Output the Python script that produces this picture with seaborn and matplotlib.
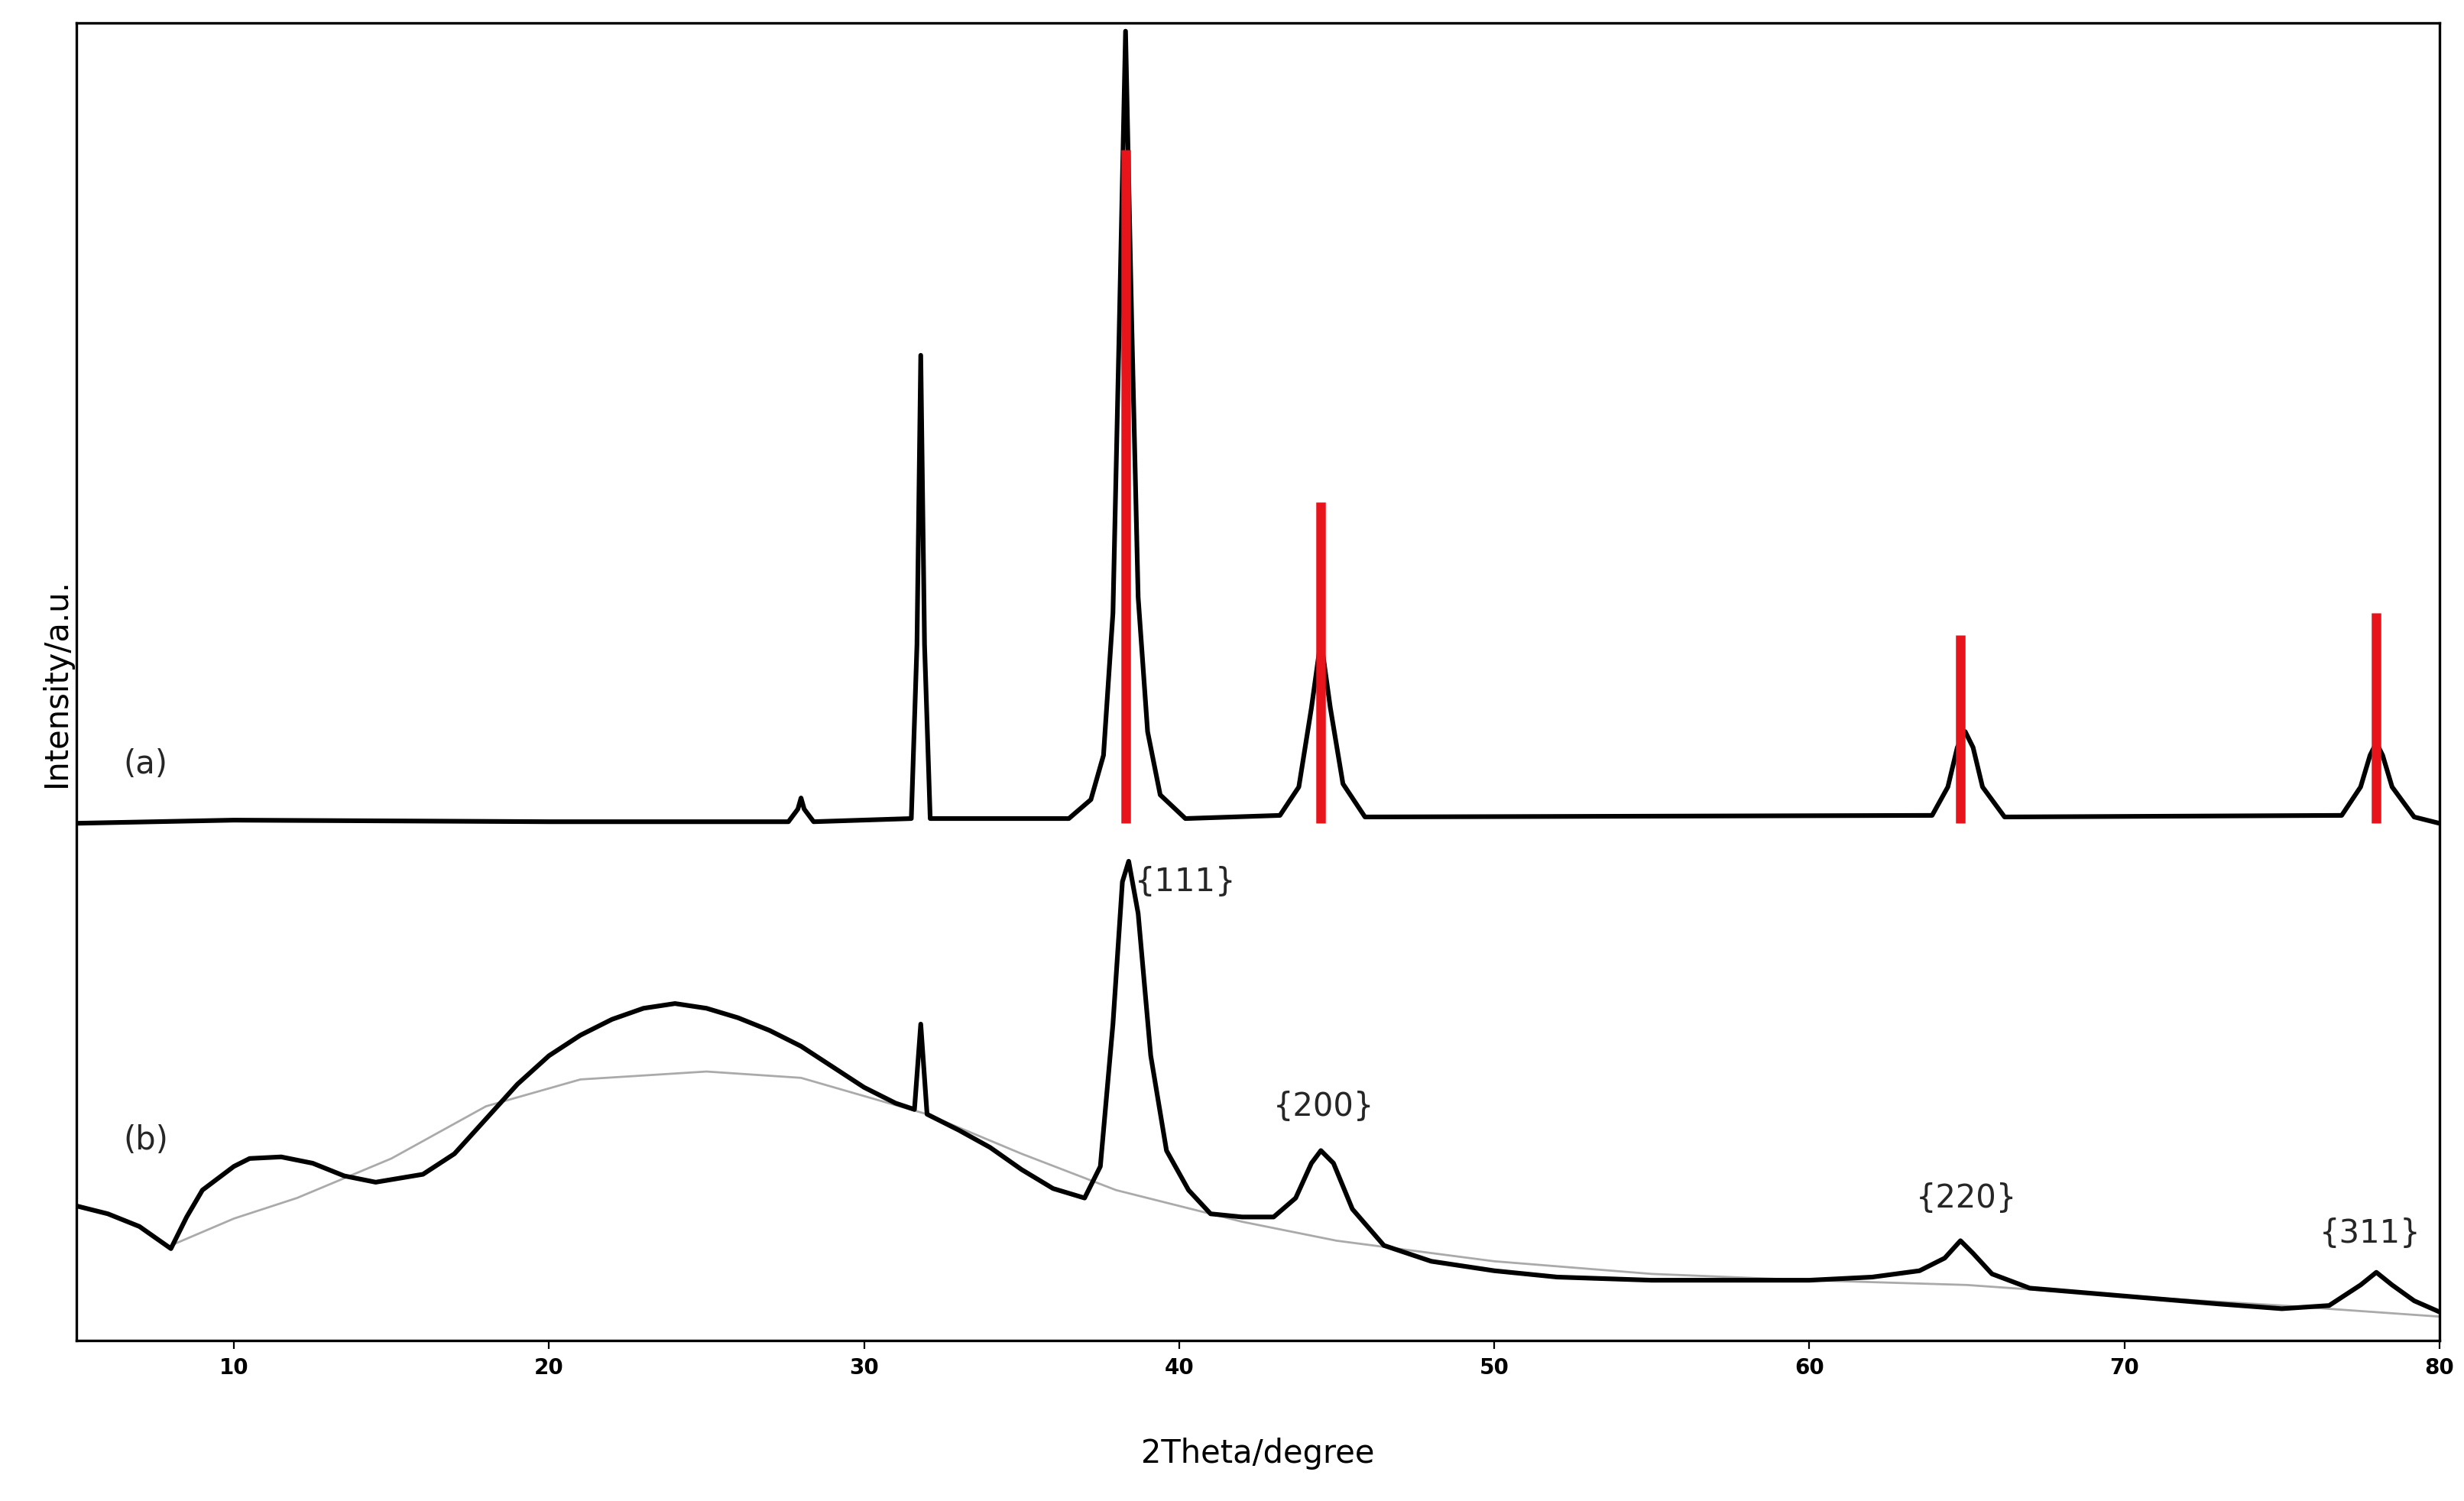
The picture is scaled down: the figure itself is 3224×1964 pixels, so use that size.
import matplotlib
matplotlib.use('Agg')
import matplotlib.pyplot as plt
import seaborn as sns

a_x = [5, 10, 20, 27.6, 27.9, 28.0, 28.1, 28.4, 31.5, 31.68, 31.8, 31.92, 32.1,
       36.5, 37.2, 37.6, 37.9, 38.1, 38.3, 38.5, 38.7, 39.0, 39.4, 40.2,
       43.2, 43.8, 44.2, 44.5, 44.8, 45.2, 45.9,
       63.9, 64.4, 64.7, 64.95, 65.2, 65.5, 66.2,
       76.9, 77.5, 77.8, 78.0, 78.2, 78.5, 79.2, 80]
a_y = [327, 329, 328, 328, 336, 343, 336, 328, 330, 440, 623, 440, 330,
       330, 342, 370, 460, 640, 828, 640, 470, 385, 345, 330,
       332, 350, 400, 443, 400, 352, 331,
       332, 350, 375, 385, 375, 350, 331,
       332, 350, 370, 378, 370, 350, 331, 327]

# red reference sticks
stick_x = [38.3, 44.5, 64.8, 78.0]
stick_y = [753, 530, 446, 460]

# pattern (b)
b_x = [5, 6, 7, 8, 8.5, 9, 10, 10.5, 11.5, 12.5, 13.5, 14.5, 16, 17, 18, 19, 20, 21, 22, 23, 24, 25, 26, 27, 28, 29, 30,
       31, 31.6, 31.8, 32.0, 33, 34, 35, 36, 37, 37.5, 37.9, 38.2, 38.4, 38.7, 39.1, 39.6, 40.3, 41, 42, 43, 43.7, 44.2, 44.5,
       44.9, 45.5, 46.5, 48, 50, 52, 55, 57, 60, 62, 63.5, 64.3, 64.8, 65.2, 65.8, 67, 70, 73, 75, 76.5, 77.5, 78.0, 78.5, 79.2, 80]
b_y = [85, 80, 72, 58, 78, 95, 110, 115, 116, 112, 104, 100, 105, 118, 140, 162, 180, 193, 203, 210, 213, 210, 204, 196, 186, 173, 160,
       150, 146, 200, 143, 133, 122, 108, 96, 90, 110, 200, 290, 303, 270, 180, 120, 95, 80, 78, 78, 90, 112, 120,
       112, 83, 60, 50, 44, 40, 38, 38, 38, 40, 44, 52, 63, 55, 42, 33, 28, 23, 20, 22, 35, 43, 35, 25, 18]

# smooth background under (b)
bg_x = [8, 10, 12, 15, 18, 21, 25, 28, 32, 35, 38, 42, 45, 50, 55, 60, 65, 70, 75, 80]
bg_y = [60, 77, 90, 115, 148, 165, 170, 166, 143, 118, 95, 75, 63, 50, 42, 38, 35, 28, 22, 15]

hkl_labels = ['{111}', '{200}', '{220}', '{311}']
hkl_x = [40.2, 44.6, 65.0, 77.8]
hkl_y = [280, 138, 80, 58]

fig = plt.figure(figsize=(16.12, 9.825), dpi=200)
ax = fig.add_axes([0.031, 0.107, 0.959, 0.877])
sns.set_style('white')

sns.lineplot(x=bg_x, y=bg_y, ax=ax, color='#aaaaaa', linewidth=1, sort=False)
sns.lineplot(x=a_x, y=a_y, ax=ax, color='black', linewidth=2.2, sort=False)
sns.lineplot(x=b_x, y=b_y, ax=ax, color='black', linewidth=2.2, sort=False)
ax.vlines(stick_x, 327, stick_y, color='#e8141c', linewidth=4.5)

for lab, x, y in zip(hkl_labels, hkl_x, hkl_y):
    ax.text(x, y, lab, ha='center', va='bottom', fontsize=15)
ax.text(7.2, 365, '(a)', ha='center', va='center', fontsize=15)
ax.text(7.2, 127, '(b)', ha='center', va='center', fontsize=15)

ax.set_xlim(5, 80)
ax.set_ylim(0, 833)
ax.set_xticks(range(10, 81, 10))
ax.set_xticklabels([str(t) for t in range(10, 81, 10)], fontweight='bold', fontsize=10)
ax.set_yticks([])
ax.tick_params(axis='x', length=4, direction='out')
for s in ax.spines.values():
    s.set_color('black')
    s.set_linewidth(1.2)
ax.set_xlabel('2Theta/degree', fontsize=15, labelpad=28)
ax.set_ylabel('Intensity/a.u.', fontsize=15, labelpad=2)

fig.savefig('out.png', dpi=200)
